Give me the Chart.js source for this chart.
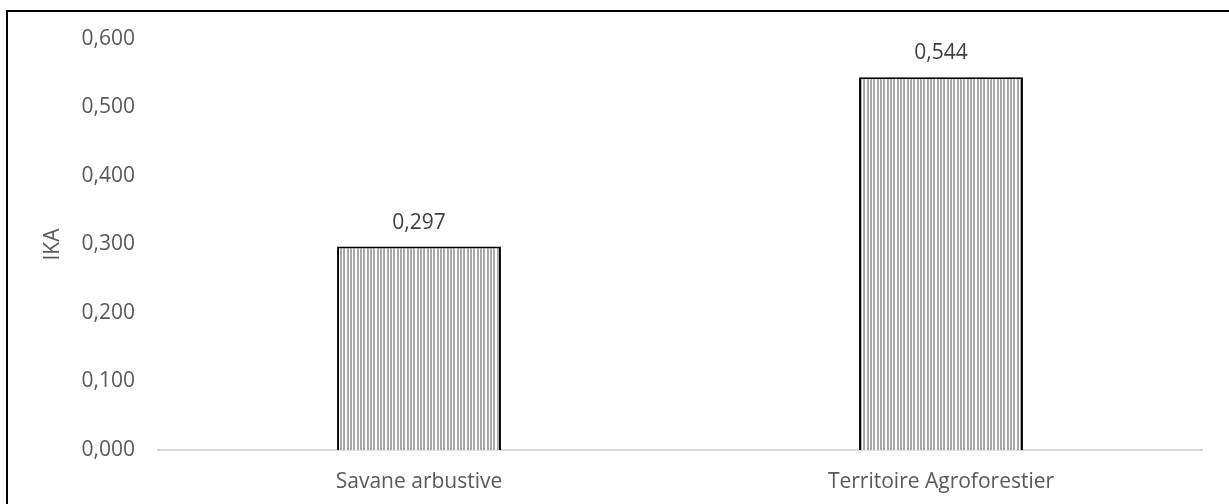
<!DOCTYPE html>
<html>
<head>
<meta charset="utf-8">
<script src="https://cdn.jsdelivr.net/npm/chart.js@4/dist/chart.umd.min.js"></script>
<style>
  html, body { margin: 0; padding: 0; background: #ffffff; }
  #wrap { width: 1229px; height: 504px; position: relative; }
</style>
</head>
<body>
<div id="wrap"><canvas id="chart" width="1229" height="504"></canvas></div>
<script>
// Sites and their IKA values
const categories = ['Savane arbustive', 'Territoire Agroforestier'];
const ikaValues = [0.297, 0.544];
const yTicks = [0, 0.1, 0.2, 0.3, 0.4, 0.5, 0.6];
const yTitle = 'IKA';

const FONT = '"Open Sans", "Liberation Sans", sans-serif';
const fmt = v => v.toFixed(3).replace('.', ',');

// Vertical hatch fill for the bars (three stripes per 10 px tile)
function stripePattern() {
  const c = document.createElement('canvas');
  c.width = 10; c.height = 4;
  const g = c.getContext('2d');
  g.fillStyle = '#ffffff';
  g.fillRect(0, 0, 10, 4);
  g.fillStyle = '#aaaaaa';
  g.fillRect(0, 0, 2, 4);
  g.fillRect(3, 0, 2, 4);
  g.fillRect(7, 0, 2, 4);
  return g.createPattern(c, 'repeat');
}

// Thin black frame along top and left edges
const framePlugin = {
  id: 'frame',
  beforeDraw(chart) {
    const ctx = chart.ctx;
    ctx.save();
    ctx.fillStyle = '#ffffff';
    ctx.fillRect(0, 0, chart.width, chart.height);
    ctx.fillStyle = '#000000';
    ctx.fillRect(6, 10, 2, chart.height - 10);
    ctx.fillRect(6, 10, chart.width - 6, 2);
    ctx.restore();
  }
};

// Value labels above each bar
const valueLabels = {
  id: 'valueLabels',
  afterDatasetsDraw(chart) {
    const ctx = chart.ctx;
    const meta = chart.getDatasetMeta(0);
    ctx.save();
    ctx.font = '21px ' + FONT;
    ctx.fillStyle = '#404040';
    ctx.textAlign = 'center';
    ctx.textBaseline = 'alphabetic';
    meta.data.forEach((bar, i) => {
      ctx.fillText(fmt(chart.data.datasets[0].data[i]), bar.x, bar.y - 18);
    });
    ctx.restore();
  }
};

new Chart(document.getElementById('chart'), {
  type: 'bar',
  data: {
    labels: categories,
    datasets: [{
      data: ikaValues,
      backgroundColor: stripePattern(),
      borderColor: '#000000',
      borderWidth: 2,
      borderSkipped: 'start',
      barPercentage: 0.314,
      categoryPercentage: 1
    }]
  },
  options: {
    responsive: false,
    animation: false,
    events: [],
    layout: { padding: { left: 0, right: 27, top: 39, bottom: 0 } },
    plugins: { legend: { display: false }, tooltip: { enabled: false } },
    scales: {
      x: {
        grid: { display: false, drawTicks: false },
        border: { display: true, color: '#d9d9d9', width: 2 },
        ticks: { color: '#595959', font: { family: FONT, size: 21 }, padding: 19, maxRotation: 0 },
        afterFit(scale) { scale.height = 54; }
      },
      y: {
        min: 0,
        max: 0.6,
        grid: { display: false, drawTicks: false },
        border: { display: false },
        afterBuildTicks(scale) { scale.ticks = yTicks.map(v => ({ value: v })); },
        ticks: {
          color: '#595959',
          font: { family: FONT, size: 21 },
          padding: 23,
          callback: v => fmt(v)
        },
        title: {
          display: true,
          text: yTitle,
          color: '#595959',
          font: { family: FONT, size: 21 },
          padding: { top: 40, bottom: 0 }
        },
        afterFit(scale) { scale.width = 158; }
      }
    }
  },
  plugins: [framePlugin, valueLabels]
});
</script>
</body>
</html>
